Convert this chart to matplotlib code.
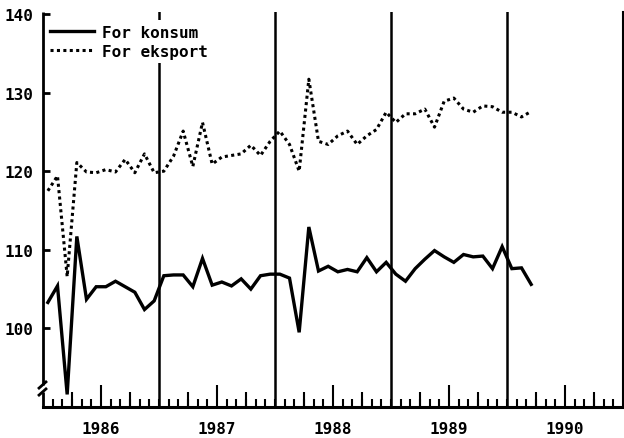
import numpy as np
import matplotlib
matplotlib.use("Agg")
import matplotlib.pyplot as plt

# månedlige indekstall, jan 1986 - mars 1990
years = [1986, 1987, 1988, 1989, 1990]
konsum = [103.3, 105.4, 91.6, 111.7, 103.7, 105.3, 105.3, 106.0, 105.3, 104.6, 102.4, 103.5,
          106.7, 106.8, 106.8, 105.3, 108.9, 105.5, 105.9, 105.4, 106.3, 105.0, 106.7, 106.9,
          106.9, 106.4, 99.5, 112.9, 107.3, 107.9, 107.2, 107.5, 107.2, 109.0, 107.2, 108.4,
          106.9, 106.0, 107.6, 108.8, 109.9, 109.1, 108.4, 109.4, 109.1, 109.2, 107.6, 110.4,
          107.6, 107.7, 105.6]
eksport = [117.5, 119.4, 106.6, 121.1, 119.9, 119.8, 120.2, 119.9, 121.5, 119.8, 122.2, 119.8,
           120.0, 121.9, 125.1, 120.6, 126.2, 120.9, 121.8, 122.0, 122.2, 123.3, 122.0, 123.8,
           125.1, 123.4, 120.0, 131.7, 123.8, 123.4, 124.5, 125.1, 123.4, 124.5, 125.3, 127.5,
           126.2, 127.3, 127.3, 127.9, 125.6, 128.9, 129.3, 127.9, 127.5, 128.3, 128.2, 127.5,
           127.5, 126.9, 127.6]
yticks = [100, 110, 120, 130, 140]

font = "DejaVu Sans Mono"
plt.rcParams['font.family'] = font
plt.rcParams['font.weight'] = 'bold'

n_months = 12 * len(years)
x = np.arange(len(konsum)) + 0.5

fig = plt.figure(figsize=(6.24, 4.39), dpi=100)
W, H = 580, 395
ax = fig.add_axes([43 / 624, 31 / 439, W / 624, H / 439])

ax.plot(x, konsum, color='black', lw=2.4, label='For konsum', solid_joinstyle='miter')
ax.plot(x, eksport, color='black', lw=2.2, linestyle=(0, (1, 1.1)), label='For eksport')

for b in range(12, n_months, 12):
    ax.axvline(b, color='black', lw=1.8)

ax.set_xlim(0, n_months)
ax.set_ylim(90, 140.25)
ax.set_yticks(yticks)
ax.set_yticklabels([str(v) for v in yticks], fontsize=11.5, fontweight='bold')
ax.set_xticks(np.arange(6, n_months, 12))
ax.set_xticklabels([str(y) for y in years], fontsize=11.5, fontweight='bold')
ax.set_xticks(np.arange(1, n_months), minor=True)
ax.tick_params(axis='x', which='major', direction='in', length=16, width=1.5, pad=10)
ax.tick_params(axis='x', which='minor', direction='in', length=6, width=1.5)
ax.tick_params(axis='y', which='major', direction='in', length=5, width=2, pad=7)

# kvartalsmerker
sec = ax.secondary_xaxis('bottom')
sec.set_xticks(np.arange(3, n_months, 6))
sec.tick_params(direction='in', length=11, width=1.5, labelbottom=False)
sec.spines['bottom'].set_visible(False)

for s in ['top', 'left']:
    ax.spines[s].set_visible(False)
ax.spines['bottom'].set_linewidth(2.2)
ax.spines['right'].set_linewidth(1.5)

# brutt y-akse
kw = dict(transform=ax.transAxes, color='black', lw=2, clip_on=False,
          solid_capstyle='butt', zorder=6)
ax.plot([0, 0], [(408 - 386) / H, 1], **kw)
ax.plot([0, 0], [0, (408 - 393) / H], **kw)
ax.plot([-5 / W, 4 / W], [(408 - 390) / H, (408 - 382) / H], **kw)
ax.plot([-5 / W, 4 / W], [(408 - 397) / H, (408 - 389) / H], **kw)

leg = ax.legend(loc='upper left', bbox_to_anchor=(0.003, 0.98), borderaxespad=0,
                frameon=True, fancybox=False, framealpha=1, edgecolor='none',
                handlelength=2.8, handletextpad=0.5, labelspacing=0.25, borderpad=0.3,
                prop={'family': font, 'weight': 'bold', 'size': 11.5})
leg.set_zorder(5)

fig.savefig('out.png', dpi=100)
